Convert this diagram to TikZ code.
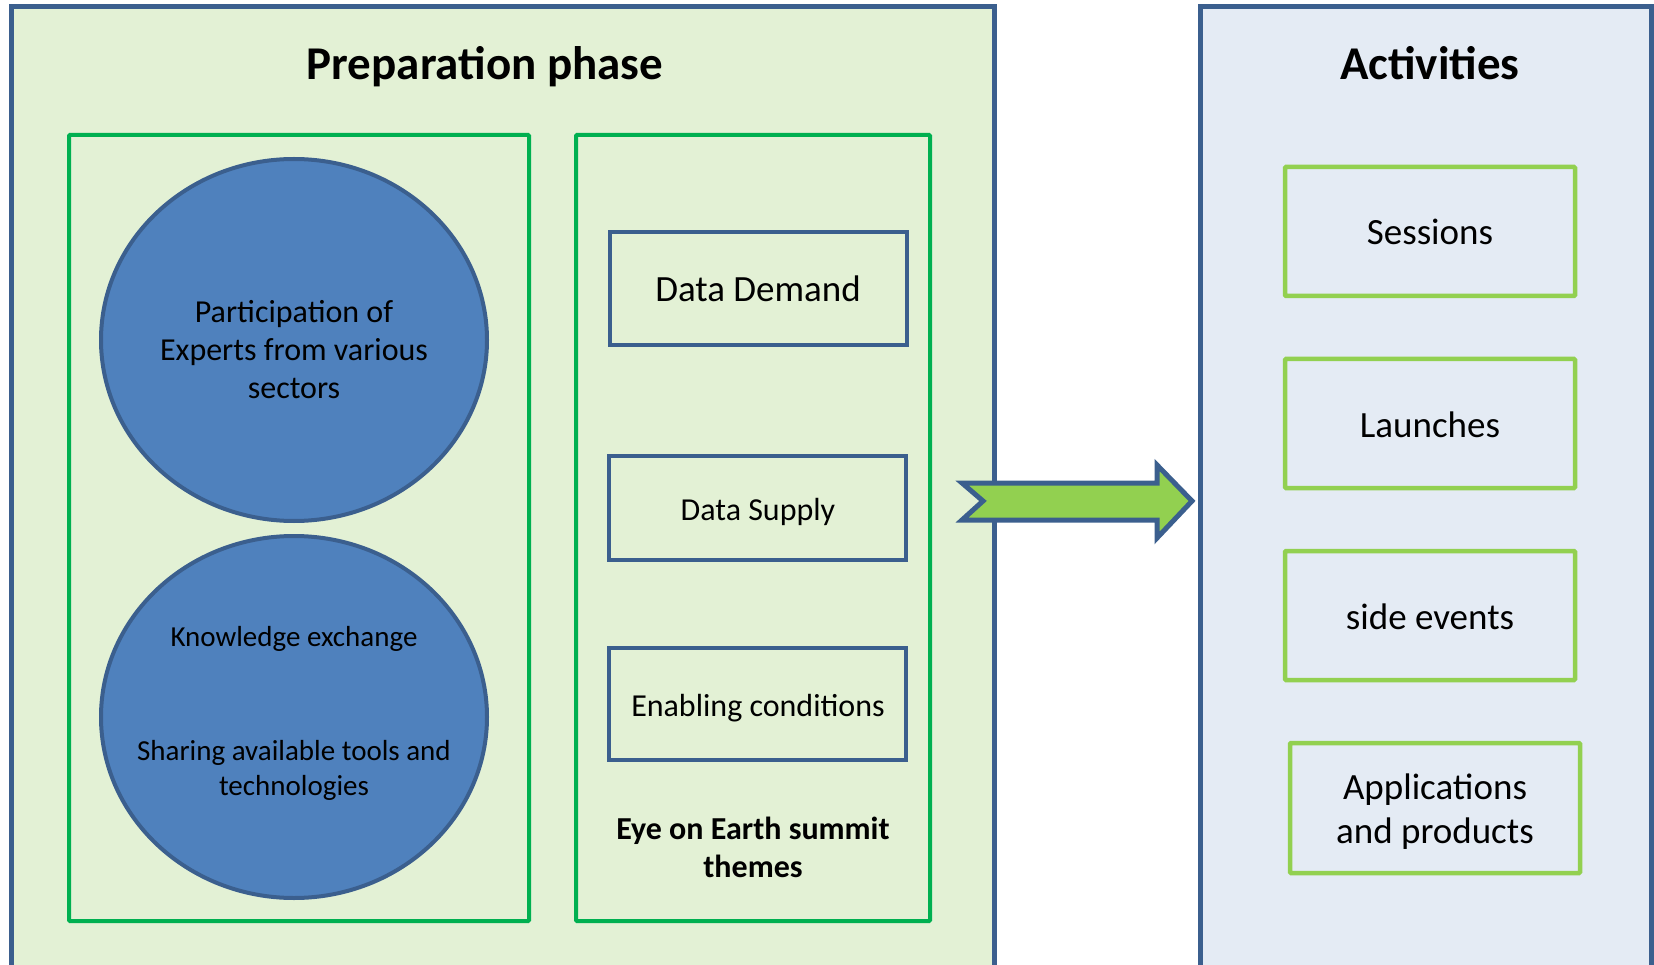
\documentclass[tikz,border=0pt]{standalone}
\usepackage{fontspec}
\setmainfont{Carlito}
\usetikzlibrary{shapes.geometric}
\definecolor{framefill}{HTML}{E3F1D5}
\definecolor{actfill}{HTML}{E4EBF4}
\definecolor{frameblue}{HTML}{3B5F8E}
\definecolor{ingreen}{HTML}{00B050}
\definecolor{ellfill}{HTML}{4F81BD}
\definecolor{litegreen}{HTML}{92D050}
\tikzset{
  outerframe/.style={draw=frameblue, line width=5pt},
  innerframe/.style={draw=ingreen, line width=4pt, rounded corners=1pt},
  theme/.style={draw=frameblue, line width=4pt, fill=none},
  actbox/.style={draw=litegreen, line width=4.5pt, rounded corners=1pt},
  blob/.style={ellipse, draw=frameblue, fill=ellfill, line width=4pt, inner sep=0pt},
  title/.style={font=\fontsize{47}{56}\selectfont\bfseries, anchor=base},
  bodytxt/.style={font=\fontsize{32}{38}\selectfont, align=center},
  bigtxt/.style={font=\fontsize{37}{44}\selectfont, align=center},
}
\begin{document}
\begin{tikzpicture}[x=1pt,y=-1pt]
\useasboundingbox (0,0) rectangle (1654,965);
\clip (0,0) rectangle (1654,965);
% outer frames
\draw[outerframe, fill=framefill] (11,7) rectangle (994,1000);
\draw[outerframe, fill=actfill] (1200,7) rectangle (1651,1000);
\node[title] (preptitle) at (485,80) {Preparation phase};
\node[title] (acttitle) at (1430,80) {Activities};
% inner frames
\draw[innerframe] (69,135) rectangle (529,921);
\draw[innerframe] (576,135) rectangle (930,921);
% ellipses
\node[blob, minimum width=386pt, minimum height=362pt] (e1) at (294,340) {};
\node[blob, minimum width=386pt, minimum height=362pt] (e2) at (294,717) {};
\node[bodytxt] (t1) at (294,350) {Participation of\\Experts from various\\sectors};
\node[font=\fontsize{29}{35}\selectfont] (t2a) at (294,639) {Knowledge exchange};
\node[font=\fontsize{29}{35}\selectfont, align=center] (t2b) at (294,770) {Sharing available tools and\\technologies};
% theme boxes
\draw[theme] (610,232) rectangle (907,345);
\node[font=\fontsize{37}{44}\selectfont] (dd) at (758,289) {Data Demand};
\draw[theme] (609,456) rectangle (906,560);
\node[bodytxt] (ds) at (758,512) {Data Supply};
\draw[theme] (609,648) rectangle (906,760);
\node[bodytxt] (ec) at (758,708) {Enabling conditions};
\node[bodytxt, font=\fontsize{32}{38}\selectfont\bfseries] (eye) at (753,847) {Eye on Earth summit\\themes};
% activities
\node[actbox, minimum width=290pt, minimum height=129pt] (s1) at (1430,231.5) {};
\node[bigtxt] at (s1) {Sessions};
\node[actbox, minimum width=290pt, minimum height=129pt] (s2) at (1430,423.5) {};
\node[bigtxt] at ([yshift=-1.5pt]s2) {Launches};
\node[actbox, minimum width=290pt, minimum height=129pt] (s3) at (1430,615.5) {};
\node[bigtxt] at ([yshift=-1.5pt]s3) {side events};
\node[actbox, minimum width=290pt, minimum height=130pt] (s4) at (1435,808) {};
\node[bigtxt] at ([yshift=-4pt]s4) {Applications\\and products};
% block arrow
\draw[draw=frameblue, fill=litegreen, line width=5pt, line join=miter]
  (962,483) -- (1157,483) -- (1157,465) -- (1192,501) -- (1157,538)
  -- (1157,520) -- (962,520) -- (983,501) -- cycle;
\end{tikzpicture}
\end{document}
